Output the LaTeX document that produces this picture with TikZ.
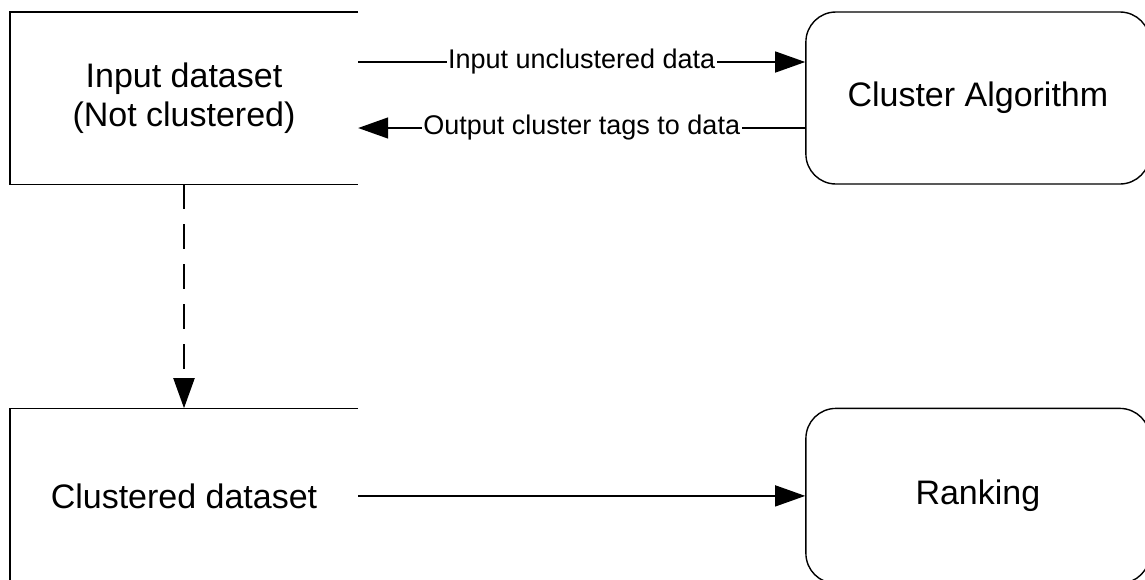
\documentclass[tikz,border=0pt]{standalone}
\usepackage{fontspec}
\setmainfont{Liberation Sans}
\usetikzlibrary{arrows.meta,positioning}
\newcommand{\boxfont}{\fontsize{34}{39}\selectfont}
\newcommand{\arrowfont}{\fontsize{27}{31}\selectfont}
\tikzset{%
       store/.style = { minimum width=348pt, minimum height=172pt, align=center, font=\boxfont, inner sep=0pt },
     process/.style = { draw, rounded corners=30pt, minimum width=344pt, minimum height=172pt, font=\boxfont, inner sep=0pt, line width=1.4pt },
         low/.style = { minimum height=175pt },
        edge/.style = { line width=1.4pt },
        flow/.style = { edge, -{Triangle[length=30pt,width=21pt]} },
    flowtext/.style = { fill=white, inner sep=1.5pt, font=\arrowfont }
}

\begin{document}
\begin{tikzpicture}[x=1pt,y=-1pt]
\useasboundingbox (0,0) rectangle (1145,579);
% boxes
\node[store] (input) at (184,98) {Input dataset\\(Not clustered)};
\node[process, right=447pt of input] (algo) {Cluster Algorithm};
\node[store, low, below=224pt of input] (clustered) {Clustered dataset};
\node[process, low, right=447pt of clustered] (rank) {Ranking};
% open sided data stores
\draw[edge] (input.north east) -- (input.north west) -- (input.south west) -- (input.south east);
\draw[edge] (clustered.north east) -- (clustered.north west) -- (clustered.south west) -- (clustered.south east);
% flows
\draw[flow] ([yshift=36pt]input.east) -- node[flowtext]{Input unclustered data} ([yshift=36pt]algo.west);
\draw[flow] ([yshift=-30pt]algo.west) -- node[flowtext]{Output cluster tags to data} ([yshift=-30pt]input.east);
\draw[flow, line width=2pt, dash pattern=on 25pt off 15pt] (input.south) -- (clustered.north);
\draw[flow] (clustered.east) -- (rank.west);
\end{tikzpicture}
\end{document}
